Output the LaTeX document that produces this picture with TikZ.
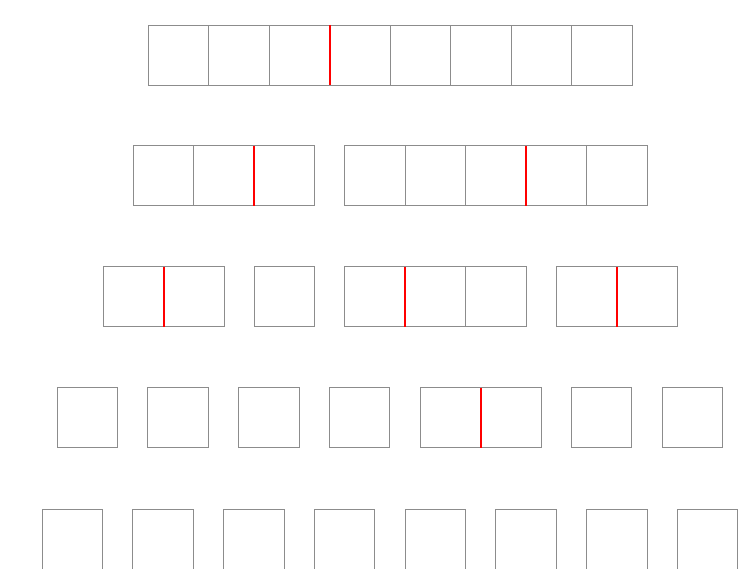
\documentclass[tikz,border=0pt]{standalone}
\definecolor{edge}{RGB}{140,140,140}
\tikzset{
  cell/.style={draw=edge, line width=0.8pt, minimum width=60.5pt, minimum height=60pt,
    inner sep=0pt, outer sep=0pt, anchor=north west},
  split/.style={draw=red, line width=2pt}
}
\newcommand\cellrow[4]{% #1 prefix, #2 x, #3 y, #4 number of cells
  \foreach \i in {1,...,#4} {\node[cell] (#1-\i) at ({#2+(\i-1)*60.5},#3) {};}}
\begin{document}
\begin{tikzpicture}[x=1pt,y=-1pt]
\useasboundingbox (0,0) rectangle (744,569);
\begin{scope}
\clip (0,0) rectangle (744,568.3);
% row 1
\cellrow{a}{148}{25}{8}
\draw[split] (a-3.north east) -- (a-3.south east);
% row 2
\cellrow{b}{133}{145.9}{3}
\cellrow{c}{344.75}{145.9}{5}
\draw[split] (b-2.north east) -- (b-2.south east);
\draw[split] (c-3.north east) -- (c-3.south east);
% row 3
\cellrow{d}{103}{266.8}{2}
\cellrow{e}{254}{266.8}{1}
\cellrow{f}{344.75}{266.8}{3}
\cellrow{g}{556.5}{266.8}{2}
\draw[split] (d-1.north east) -- (d-1.south east);
\draw[split] (f-1.north east) -- (f-1.south east);
\draw[split] (g-1.north east) -- (g-1.south east);
% row 4
\cellrow{h}{57}{387.7}{1}
\cellrow{i}{147.75}{387.7}{1}
\cellrow{j}{238.5}{387.7}{1}
\cellrow{k}{329.25}{387.7}{1}
\cellrow{l}{420}{387.7}{2}
\cellrow{m}{571.25}{387.7}{1}
\cellrow{n}{662}{387.7}{1}
\draw[split] (l-1.north east) -- (l-1.south east);
% row 5
\foreach \k in {1,...,8} {\node[cell] (p-\k) at ({42+(\k-1)*90.75},509) {};}
\end{scope}
\end{tikzpicture}
\end{document}
